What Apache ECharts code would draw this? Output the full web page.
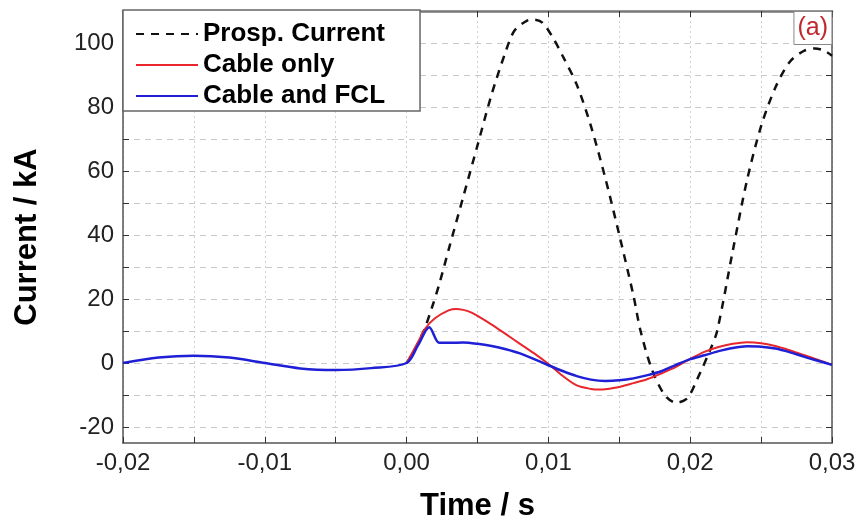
<!DOCTYPE html>
<html>
<head>
<meta charset="utf-8">
<script src="https://cdn.jsdelivr.net/npm/echarts@6/dist/echarts.min.js"></script>
<style>
html,body{margin:0;padding:0;background:#fff;}
#chart{width:859px;height:527px;}
</style>
</head>
<body>
<div id="chart"></div>
<script>
// ---- data (time in s, current in kA) ----
const prospT = [0, 0.0005, 0.001, 0.0013, 0.0018, 0.0023, 0.003, 0.004, 0.005, 0.006, 0.007, 0.0076, 0.0085, 0.009, 0.0096, 0.0104, 0.011, 0.012, 0.013, 0.014, 0.015, 0.016, 0.0165, 0.0173, 0.0182, 0.019, 0.0198, 0.0205, 0.0214, 0.0219, 0.023, 0.024, 0.025, 0.026, 0.027, 0.028, 0.0288, 0.0295, 0.03];
const prospI = [0, 3.5, 8, 11, 17.5, 24.6, 36, 52, 68, 84, 97.5, 103.8, 107, 107.3, 106.3, 101, 96, 87, 74, 58, 40, 21, 10, -2, -10, -12.4, -11, -5, 4, 10, 35, 57, 74, 86, 94, 97.5, 98.3, 97.5, 96];

const cableT = [0, 0.0008, 0.0013, 0.002, 0.003, 0.0035, 0.004, 0.0045, 0.005, 0.006, 0.007, 0.008, 0.009, 0.01, 0.011, 0.012, 0.013, 0.0136, 0.014, 0.015, 0.016, 0.017, 0.018, 0.019, 0.02, 0.021, 0.022, 0.023, 0.024, 0.025, 0.026, 0.027, 0.028, 0.029, 0.03];
const cableI = [0, 6.5, 10.7, 14, 16.5, 16.9, 16.6, 15.9, 14.7, 12, 9, 6, 3, -0.3, -4, -7, -8.1, -8.3, -8.2, -7.5, -6.3, -5.0, -3.2, -1.2, 1.3, 3.5, 5, 6, 6.5, 6.2, 5.3, 4, 2.5, 1, -0.6];

const fclT = [-0.02, -0.0175, -0.015, -0.0125, -0.01, -0.0075, -0.005, -0.0025, 0, 0.0008, 0.0016, 0.0023, 0.003, 0.004, 0.005, 0.006, 0.007, 0.008, 0.009, 0.01, 0.011, 0.012, 0.013, 0.014, 0.015, 0.016, 0.017, 0.018, 0.019, 0.02, 0.021, 0.022, 0.023, 0.024, 0.025, 0.026, 0.027, 0.028, 0.029, 0.03];
const fclI = [0, 1.7, 2.3, 1.7, 0, -1.7, -2.2, -1.6, 0, 5.5, 11.2, 6.3, 6.3, 6.4, 6.0, 5.3, 4.3, 3, 1.2, -0.7, -2.5, -4.1, -5.2, -5.6, -5.4, -4.8, -3.8, -2.5, -0.6, 1.2, 2.4, 3.7, 4.7, 5.2, 5.1, 4.5, 3.4, 2, 0.7, -0.6];

const seriesNames = ['Prosp. Current', 'Cable only', 'Cable and FCL'];
const yTickLabels = [-20, 0, 20, 40, 60, 80, 100];
const yTickMarks = [-20, -10, 0, 10, 20, 30, 40, 50, 60, 70, 80, 90, 100];
const panelLabel = '(a)';

function pairs(t, v) { return t.map((x, i) => [x, v[i]]); }

const FONT = '"Liberation Sans", Arial, sans-serif';
const chart = echarts.init(document.getElementById('chart'), null, {renderer: 'canvas'});

const xCommon = {
  type: 'value', min: -0.02, max: 0.03, interval: 0.01,
  axisLine: {show: true, onZero: false, lineStyle: {color: '#555', width: 1.5}},
  axisTick: {show: true, inside: true, length: 6, lineStyle: {color: '#333', width: 1}},
  minorTick: {show: true, splitNumber: 2, length: 6, lineStyle: {color: '#333', width: 1}}
};
const yCommon = {
  type: 'value', min: -25, max: 110,
  axisLine: {show: true, onZero: false, lineStyle: {color: '#555', width: 1.5}},
  axisTick: {show: true, inside: true, length: 6, customValues: yTickMarks, lineStyle: {color: '#333', width: 1}}
};

chart.setOption({
  animation: false,
  backgroundColor: '#fff',
  textStyle: {fontFamily: FONT},
  title: {
    text: panelLabel, right: 27, top: 11,
    padding: [5, 4, 4, 4],
    borderColor: '#888', borderWidth: 1, backgroundColor: '#fff',
    textStyle: {fontSize: 25, color: '#c0282d', fontWeight: 'normal', fontFamily: FONT}
  },
  legend: {
    data: seriesNames, orient: 'vertical', left: 123, top: 10,
    padding: [11, 35, 2, 12], itemGap: 5, itemWidth: 62, itemHeight: 14,
    backgroundColor: '#fff', borderColor: '#666', borderWidth: 1.5, borderRadius: 0,
    itemStyle: {opacity: 0},
    textStyle: {fontSize: 26, fontWeight: 'bold', color: '#000', fontFamily: FONT}
  },
  grid: {left: 123, right: 27, top: 11, bottom: 81, containLabel: false},
  xAxis: [
    Object.assign({}, xCommon, {
      position: 'bottom',
      name: 'Time / s', nameLocation: 'middle', nameGap: 48,
      nameTextStyle: {fontSize: 31, fontWeight: 'bold', color: '#000', fontFamily: FONT},
      axisLabel: {fontSize: 24, color: '#222', margin: 8, fontFamily: FONT,
        formatter: v => v.toFixed(2).replace('.', ',')},
      splitLine: {show: true, lineStyle: {color: '#d0d0d0', type: [2, 3], width: 1}},
      minorSplitLine: {show: true, lineStyle: {color: '#d0d0d0', type: [2, 3], width: 1}}
    }),
    Object.assign({}, xCommon, {
      position: 'top', axisLabel: {show: false}, splitLine: {show: false},
      axisLine: {show: true, onZero: false, lineStyle: {color: '#777', width: 2.5}}
    })
  ],
  yAxis: [
    Object.assign({}, yCommon, {
      position: 'left',
      name: 'Current / kA', nameLocation: 'middle', nameGap: 80, nameRotate: 90,
      nameTextStyle: {fontSize: 31, fontWeight: 'bold', color: '#000', fontFamily: FONT, padding: [0, 20, 0, 0]},
      axisLabel: {fontSize: 24, color: '#222', margin: 9, fontFamily: FONT, customValues: yTickLabels},
      splitLine: {show: true, lineStyle: {color: '#c8c8c8', type: [6, 5], width: 1}}
    }),
    Object.assign({}, yCommon, {
      position: 'right', axisLabel: {show: false}, splitLine: {show: false}
    })
  ],
  series: [
    {name: seriesNames[0], type: 'line', data: pairs(prospT, prospI), showSymbol: false, symbol: 'none',
      smooth: 0.3, lineStyle: {color: '#111', width: 2.5, type: [8, 7]}, itemStyle: {color: '#111'}, z: 2},
    {name: seriesNames[1], type: 'line', data: pairs(cableT, cableI), showSymbol: false, symbol: 'none',
      smooth: 0.3, lineStyle: {color: '#e8262b', width: 2}, itemStyle: {color: '#e8262b'}, z: 3},
    {name: seriesNames[2], type: 'line', data: pairs(fclT, fclI), showSymbol: false, symbol: 'none',
      smooth: 0.3, lineStyle: {color: '#1f1fd6', width: 2.5}, itemStyle: {color: '#1f1fd6'}, z: 4}
  ]
});
</script>
</body>
</html>
